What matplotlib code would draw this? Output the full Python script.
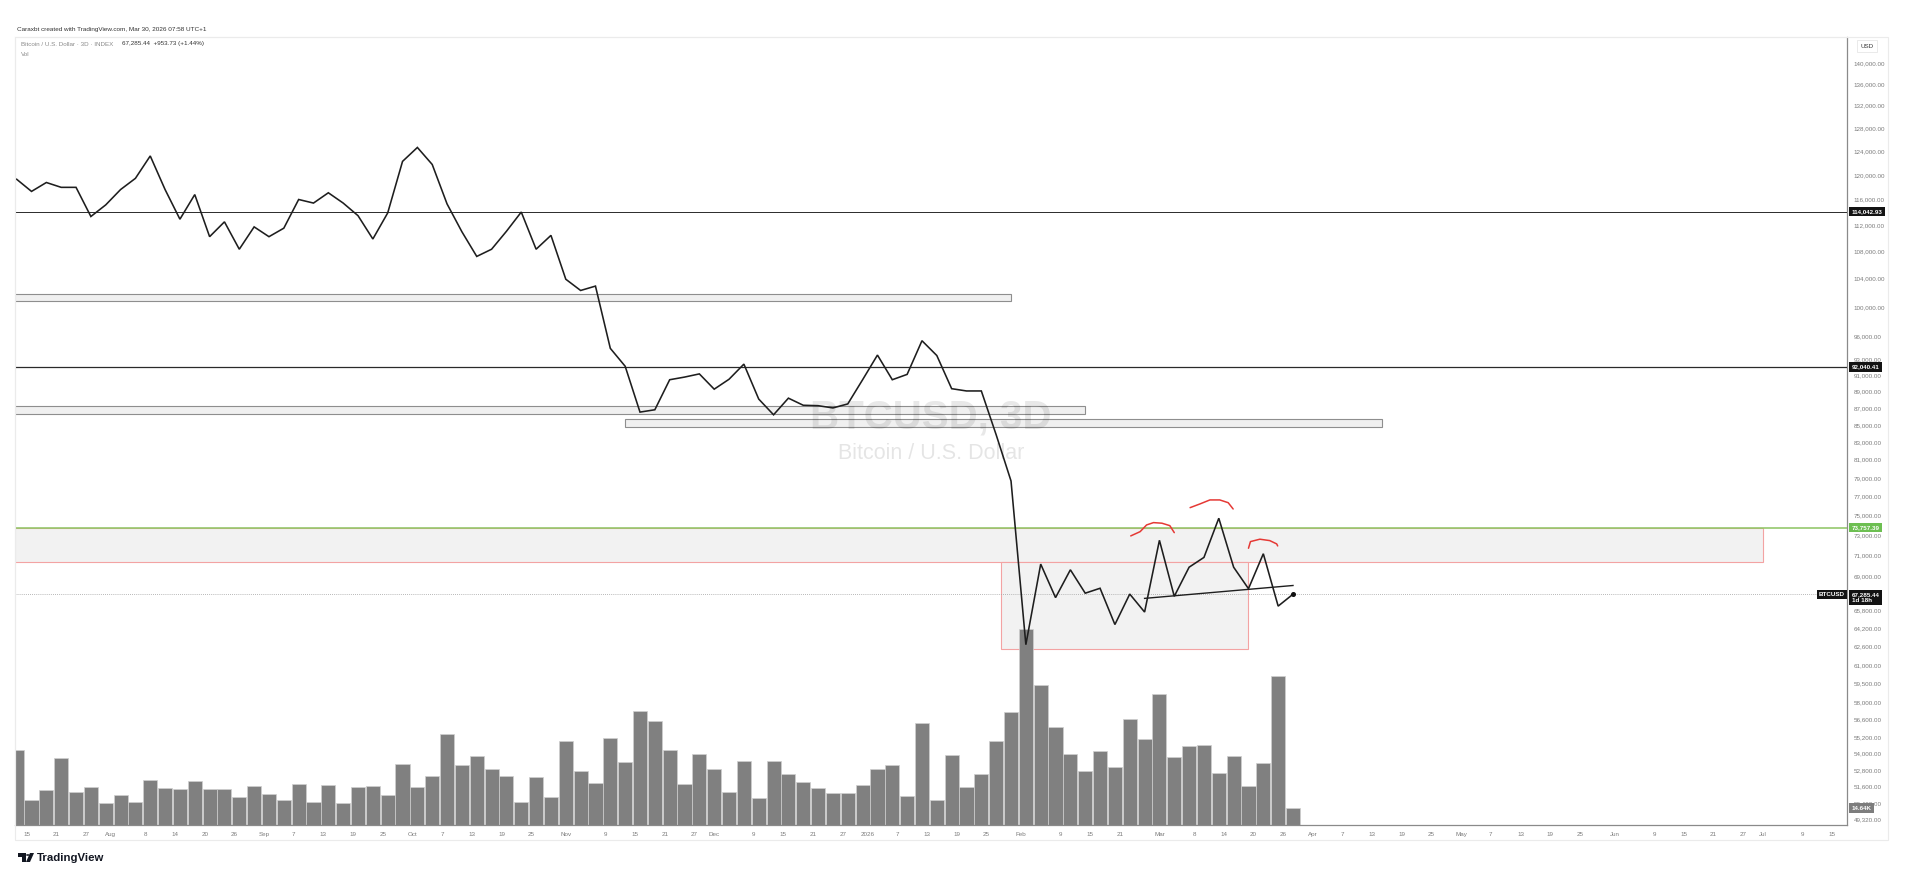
import numpy as np
import pandas as pd
import matplotlib
matplotlib.use("Agg")
import matplotlib.pyplot as plt
import matplotlib.dates as mdates
import matplotlib.transforms as mtransforms
from matplotlib.patches import Rectangle, Circle, Polygon
from matplotlib.ticker import NullLocator

plt.rcParams['font.family'] = ['Liberation Sans', 'DejaVu Sans']

# BTCUSD 3D closes, oldest first (last bar = 2026-03-28)
close = [119260, 117280, 118730, 117940, 117940, 113290, 115120, 117580, 119410, 123160,
         117580, 112870, 116770, 110180, 112460, 108290, 111680, 110180, 111480, 115980,
         115410, 117060, 115410, 113420, 109830, 113850, 122240, 124610, 121720, 115270,
         110930, 107220, 108290, 111000, 113990, 108290, 110380, 103900, 102300, 102920,
         94450, 92150, 86500, 86780, 90450, 90780, 91180, 89280, 90510, 92420,
         88070, 86180, 88180, 87320, 87270, 87000, 87480, 90450, 93580, 90450,
         91120, 95450, 93520, 89340, 89060, 89060, 83830, 78660, 62760, 70140,
         66970, 69590, 67380, 67840, 64530, 67300, 65650, 72480, 67090, 69840,
         70790, 74720, 69840, 67800, 71150, 66190, 67285.44]
# volume in thousands
volume_k = [64.6, 21.3, 30.5, 58.0, 28.6, 33.2, 18.9, 26.3, 20.1, 39.0,
            31.7, 30.9, 37.9, 30.9, 31.3, 24.4, 33.6, 26.7, 22.0, 35.6,
            19.7, 34.8, 18.9, 33.2, 34.0, 25.5, 52.6, 33.2, 42.1, 78.5,
            51.4, 59.9, 48.7, 42.5, 20.1, 41.4, 24.0, 72.7, 46.8, 36.3,
            75.4, 54.1, 98.6, 89.7, 64.6, 35.2, 61.1, 48.3, 28.6, 54.9,
            23.6, 55.3, 44.1, 37.5, 31.7, 27.4, 27.8, 34.8, 48.3, 51.4,
            24.7, 87.7, 21.3, 60.7, 32.9, 43.7, 72.3, 97.8, 169.3, 121.0,
            84.3, 61.5, 46.8, 63.8, 50.3, 91.6, 73.8, 112.9, 59.1, 68.4,
            69.2, 44.5, 59.9, 34.0, 53.3, 128.3, 14.64]
last_bar = "2026-03-28"
bar_dates = pd.date_range(end=last_bar, periods=len(close), freq="3D")

black_levels = [114042.93, 92040.41]
black_widths = [0.7, 0.9]
green_level = 73757.39
last_price = 67285.44

# zones: start, end, low, high
grey_zones = [("2025-06-01", "2026-01-30", 100790, 101850),
              ("2025-06-01", "2026-02-14", 86300, 87260),
              ("2025-11-13", "2026-04-15", 84760, 85660)]
red_zones = [("2025-06-01", "2026-07-01", 70320, 73757.39),
             ("2026-01-28", "2026-03-19", 62370, 70320)]

trend_dates = ["2026-02-26", "2026-03-28"]
trend_prices = [66900, 68100]

# hand drawn arcs: days after 2025-08-01, price
arc_base = "2025-08-01"
arc1_days = [206.2, 208.1, 209.4, 210.8, 212.5, 214.1, 215.0]
arc1_price = [72920, 73350, 74030, 74270, 74210, 73960, 73250]
arc2_days = [218.2, 220.2, 222.2, 224.2, 225.9, 226.9]
arc2_price = [75820, 76210, 76630, 76630, 76340, 75680]
arc3_days = [230.0, 230.4, 232.3, 234.3, 235.7, 235.9]
arc3_price = [71690, 72350, 72590, 72450, 72120, 71920]

price_ticks = [140000, 136000, 132000, 128000, 124000, 120000, 116000, 112000, 108000,
               104000, 100000, 96000, 93000, 91000, 89000, 87000, 85000, 83000, 81000,
               79000, 77000, 75000, 73000, 71000, 69000, 65800, 64200, 62600, 61000,
               59500, 58000, 56600, 55200, 54000, 52800, 51600, 50400, 49320]

tick_dates = ["2025-07-15", "2025-07-21", "2025-07-27", "2025-08-01", "2025-08-08", "2025-08-14",
              "2025-08-20", "2025-08-26", "2025-09-01", "2025-09-07", "2025-09-13", "2025-09-19",
              "2025-09-25", "2025-10-01", "2025-10-07", "2025-10-13", "2025-10-19", "2025-10-25",
              "2025-11-01", "2025-11-09", "2025-11-15", "2025-11-21", "2025-11-27", "2025-12-01",
              "2025-12-09", "2025-12-15", "2025-12-21", "2025-12-27", "2026-01-01", "2026-01-07",
              "2026-01-13", "2026-01-19", "2026-01-25", "2026-02-01", "2026-02-09", "2026-02-15",
              "2026-02-21", "2026-03-01", "2026-03-08", "2026-03-14", "2026-03-20", "2026-03-26",
              "2026-04-01", "2026-04-07", "2026-04-13", "2026-04-19", "2026-04-25", "2026-05-01",
              "2026-05-07", "2026-05-13", "2026-05-19", "2026-05-25", "2026-06-01", "2026-06-09",
              "2026-06-15", "2026-06-21", "2026-06-27", "2026-07-01", "2026-07-09", "2026-07-15"]
tick_labels = ["15", "21", "27", "Aug", "8", "14", "20", "26", "Sep", "7", "13", "19", "25",
               "Oct", "7", "13", "19", "25", "Nov", "9", "15", "21", "27", "Dec", "9", "15",
               "21", "27", "2026", "7", "13", "19", "25", "Feb", "9", "15", "21", "Mar", "8",
               "14", "20", "26", "Apr", "7", "13", "19", "25", "May", "7", "13", "19", "25",
               "Jun", "9", "15", "21", "27", "Jul", "9", "15"]

W, H = 1920, 888
fig = plt.figure(figsize=(W / 100, H / 100), dpi=100)
fig.patch.set_facecolor("white")

left_px, right_px, top_px, bot_px = 15, 1847, 37, 825
rect = [left_px / W, 1 - bot_px / H, (right_px - left_px) / W, (bot_px - top_px) / H]
ax_vol = fig.add_axes(rect)
ax = fig.add_axes(rect)
ax.patch.set_visible(False)

x = mdates.date2num(bar_dates)
x_last = mdates.date2num(pd.Timestamp(last_bar))
px_per_day = 4.947
xlim = (x_last - (1293 - left_px) / px_per_day, x_last + (right_px - 1293) / px_per_day)

for a in (ax, ax_vol):
    a.set_xlim(*xlim)

ax.set_yscale("log")
ax.set_ylim(48940, 145120)
ax_vol.set_ylim(0, 680)
ax_vol.set_axis_off()

# watermark, semi transparent over the zones
ax_vol.text(0.5, 0.517, "BTCUSD, 3D", transform=ax_vol.transAxes, ha="center", va="center",
            fontsize=29, fontweight="bold", color=(0, 0, 0, 0.09), zorder=1.5)
ax_vol.text(0.5, 0.471, "Bitcoin / U.S. Dollar", transform=ax_vol.transAxes, ha="center",
            va="center", fontsize=15.5, color=(0, 0, 0, 0.1), zorder=1.5)

# zones (drawn in the volume axes so bars sit above them)
for s, e, lo, hi in grey_zones:
    x0 = mdates.date2num(pd.Timestamp(s))
    x1 = mdates.date2num(pd.Timestamp(e))
    ax_vol.add_patch(Rectangle((x0, lo), x1 - x0, hi - lo, transform=ax.transData,
                               facecolor="#f0f0f0", edgecolor="#8e8e8e", lw=0.8, zorder=1))
for s, e, lo, hi in red_zones:
    x0 = mdates.date2num(pd.Timestamp(s))
    x1 = mdates.date2num(pd.Timestamp(e))
    ax_vol.add_patch(Rectangle((x0, lo), x1 - x0, hi - lo, transform=ax.transData,
                               facecolor="#f2f2f2", edgecolor="#f3a3a3", lw=0.8, zorder=1))

# volume
ax_vol.bar(x, volume_k, width=2.85, color="#808080", edgecolor="#cfcfcf", linewidth=0.5, zorder=2)

# levels
for lv, lw in zip(black_levels, black_widths):
    ax.axhline(lv, color="#2a2a2a", lw=lw, zorder=3)
ax.axhline(green_level, color="#8cc461", lw=1.1, zorder=4)
ax.axhline(last_price, color="#a0a0a0", lw=0.6, ls=(0, (1, 1.5)), zorder=3)

# price line
ax.plot(x, close, color="#1e1e1e", lw=1.15, zorder=5, solid_joinstyle="miter")
ax.plot([x[-1]], [close[-1]], "o", color="#111", ms=2.6, zorder=6)

# trendline
ax.plot(mdates.date2num(pd.to_datetime(trend_dates)), trend_prices, color="#1e1e1e", lw=1.0, zorder=5)

# red arcs
base = mdates.date2num(pd.Timestamp(arc_base))
for dd, pp in ((arc1_days, arc1_price), (arc2_days, arc2_price), (arc3_days, arc3_price)):
    ax.plot(base + np.array(dd), pp, color="#e53935", lw=1.1, zorder=6, solid_capstyle="round")

# axes styling
for side in ("top", "left"):
    ax.spines[side].set_color("#eeeeee")
    ax.spines[side].set_linewidth(0.8)
for side in ("right", "bottom"):
    ax.spines[side].set_color("#8a8a8a")
    ax.spines[side].set_linewidth(0.9)

ax.yaxis.tick_right()
ax.set_yticks(price_ticks)
ax.set_yticklabels([f"{t:,.2f}" for t in price_ticks])
ax.yaxis.set_minor_locator(NullLocator())
ax.tick_params(axis="y", length=0, pad=5, labelsize=4.5, labelcolor="#7b7b7b")

ax.set_xticks(mdates.date2num(pd.to_datetime(tick_dates)))
ax.set_xticklabels(tick_labels)
ax.tick_params(axis="x", length=0, pad=5, labelsize=4.5, labelcolor="#7b7b7b")

# price scale labels
trans = mtransforms.blended_transform_factory(ax.transAxes, ax.transData)
for lv in black_levels:
    ax.text(1.0025, lv, f"{lv:,.2f}", transform=trans, ha="left", va="center", fontsize=4.5,
            fontweight="bold", color="white", clip_on=False, zorder=10,
            bbox=dict(boxstyle="square,pad=0.35", fc="#131313", ec="none"))
ax.text(1.0025, green_level, f"{green_level:,.2f}", transform=trans, ha="left", va="center",
        fontsize=4.5, fontweight="bold", color="white", clip_on=False, zorder=10,
        bbox=dict(boxstyle="square,pad=0.35", fc="#6dbf52", ec="none"))
ax.annotate(f"{last_price:,.2f}\n1d 18h", xy=(1.0025, last_price), xycoords=trans,
            xytext=(0, -2.5), textcoords="offset points", ha="left", va="center",
            fontsize=4.5, fontweight="bold", color="white", annotation_clip=False, zorder=10,
            linespacing=1.1, bbox=dict(boxstyle="square,pad=0.35", fc="#131313", ec="none"))
ax.text(0.9988, last_price, "BTCUSD", transform=trans, ha="right", va="center", fontsize=4.5,
        fontweight="bold", color="white", clip_on=False, zorder=10,
        bbox=dict(boxstyle="square,pad=0.35", fc="#131313", ec="none"))
vtrans = mtransforms.blended_transform_factory(ax_vol.transAxes, ax_vol.transData)
ax_vol.text(1.0025, volume_k[-1], f"{volume_k[-1]:.2f}K", transform=vtrans, ha="left", va="center",
            fontsize=4.5, fontweight="bold", color="white", clip_on=False, zorder=10,
            bbox=dict(boxstyle="square,pad=0.35", fc="#7d7d7d", ec="none"))

# frame around panel
fig.add_artist(Rectangle((left_px / W, 1 - 840 / H), (1888 - left_px) / W, (840 - top_px) / H,
                         transform=fig.transFigure, fill=False, ec="#ebebeb", lw=0.8))
fig.text(1867 / W, 1 - 46 / H, "USD", ha="center", va="center", fontsize=4.5, color="#333",
         bbox=dict(boxstyle="square,pad=0.6", fc="white", ec="#e6e6e6", lw=0.6))

# header
fig.text(17 / W, 1 - 30 / H, "Caraxbt created with TradingView.com, Mar 30, 2026 07:58 UTC+1",
         fontsize=4.6, color="#333", va="center")
fig.text(21 / W, 1 - 44 / H, "Bitcoin / U.S. Dollar · 3D · INDEX", fontsize=4.5, color="#8a8a8a",
         va="center")
fig.text(122 / W, 1 - 44 / H, "67,285.44  +953.73 (+1.44%)", fontsize=4.5, color="#333",
         va="center")
fig.text(21 / W, 1 - 55 / H, "Vol", fontsize=4.5, color="#8a8a8a", va="center")

# TradingView logo
def fpx(px, py):
    return (px / W, 1 - py / H)

fig.add_artist(Polygon([fpx(18, 853), fpx(25.5, 853), fpx(25.5, 862), fpx(22, 862), fpx(22, 856.5),
                        fpx(18, 856.5)], closed=True, transform=fig.transFigure, fc="#131722", ec="none"))
fig.add_artist(Circle(fpx(27.8, 855), 1.8 / W, transform=fig.transFigure, fc="#131722", ec="none"))
fig.add_artist(Polygon([fpx(30, 853), fpx(34, 853), fpx(30, 862), fpx(26, 862)], closed=True,
                       transform=fig.transFigure, fc="#131722", ec="none"))
fig.text(37 / W, 1 - 858 / H, "TradingView", fontsize=8.2, fontweight="semibold", color="#131722",
         va="center")

fig.savefig("out.png", dpi=100, facecolor="white")
